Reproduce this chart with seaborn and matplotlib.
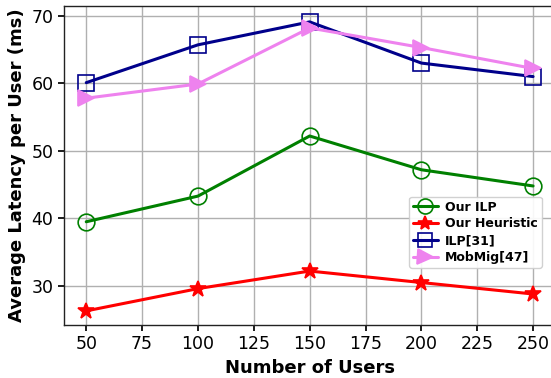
import matplotlib
matplotlib.use("Agg")
import matplotlib.pyplot as plt
import pandas as pd
import seaborn as sns

users = [50, 100, 150, 200, 250]
our_ilp = [39.5, 43.3, 52.2, 47.2, 44.8]
our_heuristic = [26.3, 29.6, 32.2, 30.5, 28.8]
ilp_31 = [60.1, 65.7, 69.1, 63.0, 61.0]
mobmig_47 = [57.8, 59.9, 68.2, 65.3, 62.2]

sns.set_theme(style="whitegrid")
plt.rcParams["font.family"] = ["DejaVu Sans"]
plt.rcParams["grid.color"] = "#b0b0b0"
plt.rcParams["axes.edgecolor"] = "#222222"
plt.rcParams["text.color"] = "black"
plt.rcParams["axes.labelcolor"] = "black"
plt.rcParams["xtick.color"] = "black"
plt.rcParams["ytick.color"] = "black"

fig = plt.figure(figsize=(5.51, 3.78), dpi=100)
ax = fig.add_axes([0.116, 0.14, 0.892, 0.845])

series = [
    ("Our ILP", our_ilp, "green", "o", "none", 12),
    ("Our Heuristic", our_heuristic, "red", "*", "red", 12),
    ("ILP[31]", ilp_31, "darkblue", "s", "none", 11),
    ("MobMig[47]", mobmig_47, "violet", ">", "violet", 12),
]
for label, vals, color, marker, face, ms in series:
    df = pd.DataFrame({"users": users, "latency": vals})
    sns.lineplot(data=df, x="users", y="latency", ax=ax, color=color, lw=2.2,
                 marker=marker, markersize=ms, markerfacecolor=face,
                 markeredgecolor=color, markeredgewidth=1.2, label=label)

ax.set_xlim(40, 260)
ax.set_ylim(24.2, 71.5)
ax.set_xticks([50, 75, 100, 125, 150, 175, 200, 225, 250])
ax.set_yticks([30, 40, 50, 60, 70])
ax.tick_params(axis="both", labelsize=12.5, length=4, bottom=True, left=True)
ax.set_xlabel("Number of Users", fontsize=13, fontweight="bold")
ax.set_ylabel("Average Latency per User (ms)", fontsize=13, fontweight="bold")
for s in ax.spines.values():
    s.set_linewidth(1.0)
ax.legend(loc="lower right", bbox_to_anchor=(0.985, 0.16), prop={"weight": "bold", "size": 9},
          handlelength=2.0, handletextpad=0.6, markerscale=0.9, borderpad=0.3,
          labelspacing=0.3, framealpha=0.9)

fig.savefig("out.png", dpi=100)
